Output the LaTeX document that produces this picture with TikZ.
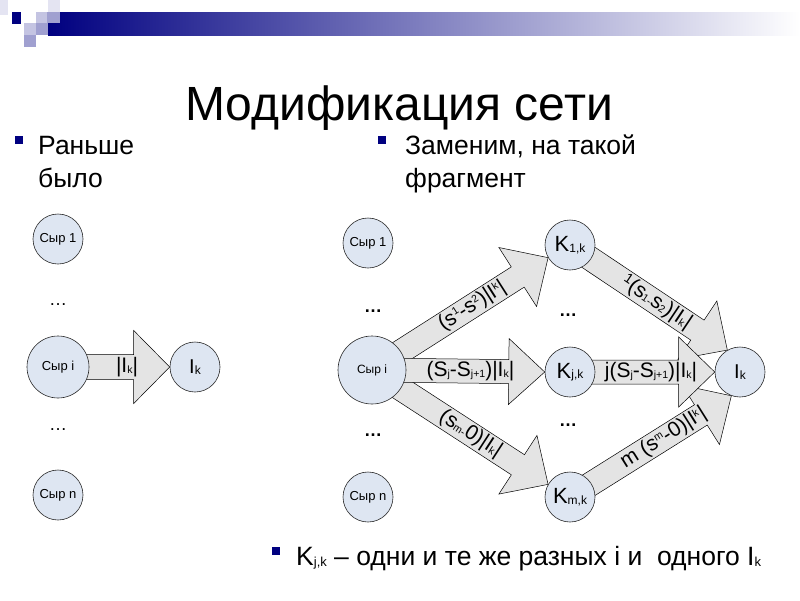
\documentclass[tikz,border=0pt]{standalone}
\usepackage{fontspec}
\setmainfont{Liberation Sans}
\usetikzlibrary{calc}
\pgfdeclarelayer{bg}
\pgfsetlayers{bg,main}
\definecolor{navy}{RGB}{0,0,128}
\definecolor{circfill}{RGB}{222,230,242}
\definecolor{arrfill}{RGB}{228,228,228}
\definecolor{paleA}{RGB}{228,228,242}
\definecolor{lavA}{RGB}{196,196,226}
\definecolor{lavB}{RGB}{160,160,208}
\newcommand\lsm[1]{{\fontsize{10.5}{10.5}\selectfont #1}}
\newcommand\lup[1]{\raisebox{6.5pt}{\lsm{#1}}}
\newcommand\ldn[1]{\raisebox{-1pt}{\lsm{#1}}}
\newcommand\ksub[1]{\raisebox{-0.5pt}{\fontsize{12}{12}\selectfont #1}}
\newcommand\bsub[1]{\raisebox{-1pt}{\fontsize{13}{13}\selectfont #1}}
% #1 half shaft width, #2 half head width, #3 tail, #4 tip
\newcommand\fatarrow[4]{%
  \coordinate (fab) at ($(#4)!36pt!(#3)$);
  \draw[fatarr] ($(#3)!#1!90:(#4)$) -- ($(fab)!#1!90:(#4)$) -- ($(fab)!#2!90:(#4)$) -- (#4)
    -- ($(fab)!#2!-90:(#4)$) -- ($(fab)!#1!-90:(#4)$) -- ($(#3)!#1!-90:(#4)$) -- cycle;}
\begin{document}
\begin{tikzpicture}[x=1pt,y=-1pt,
  circ/.style={circle, draw=black!85, line width=0.6pt, fill=circfill, minimum size=50pt, inner sep=0pt, font=\fontsize{13}{13}\selectfont},
  fatarr/.style={draw=black, line width=0.5pt, fill=arrfill},
  dots/.style={inner sep=0pt, font=\fontsize{18}{18}\selectfont},
  bdots/.style={inner sep=0pt, font=\bfseries\fontsize{18}{18}\selectfont},
  lbl/.style={inner sep=0pt, font=\fontsize{21}{21}\selectfont},
  btext/.style={anchor=base west, inner sep=0pt, font=\fontsize{26.5}{26.5}\selectfont},
  bullet/.style={fill=navy, draw=none, minimum size=8.5pt, inner sep=0pt}]
\useasboundingbox (0,0) rectangle (800,600);
% top decoration
\shade[left color=navy, right color=white] (48,12) rectangle (800,35);
\fill[paleA] (0,0) rectangle (8,15);
\fill[navy] (12,12) rectangle (21,24);
\fill[lavA] (36,12) rectangle (47,23);
\fill[lavB] (47,12) rectangle (60,23);
\fill[lavA] (24,23) rectangle (36,35);
\fill[lavB] (36,23) rectangle (48,35);
\fill[lavB] (24,35) rectangle (36,47);
\fill[paleA] (48,0) rectangle (60,12);
% title
\node[anchor=base, inner sep=0pt, font=\fontsize{48}{48}\selectfont] (title) at (399,120) {Модификация сети};
% bullets
\node[bullet] (b1) at (19,140) {};
\node[btext] (t1) at (38,154) {Раньше};
\node[btext] (t2) at (38,187) {было};
\node[bullet] (b2) at (382,140) {};
\node[btext] (t3) at (405,154) {Заменим, на такой};
\node[btext] (t4) at (405,187) {фрагмент};
\node[bullet] (b3) at (276,551) {};
\node[btext] (t5) at (296,565) {K\bsub{j,k} – одни и те же разных i и \ одного I\bsub{k}};
% left diagram
\node[circ] (ls1) at (58,239) {Сыр 1};
\node[dots] (ld1) at (58,305) {…};
\node[circ, minimum size=62pt] (lsi) at (58,367) {Сыр i};
\node[circ, font=\fontsize{20}{20}\selectfont] (lik) at (195,367) {I\ksub{k}};
\node[dots] (ld2) at (58,430) {…};
\node[circ] (lsn) at (58,495) {Сыр n};
% right diagram
\node[circ] (rs1) at (368,243) {Сыр 1};
\node[bdots] (rd1) at (373,311) {…};
\node[circ, minimum size=68pt, font=\fontsize{12}{12}\selectfont] (rsi) at (372,370) {Сыр i};
\node[bdots] (rd2) at (373,435) {…};
\node[circ] (rsn) at (368,497) {Сыр n};
\node[circ, font=\fontsize{22}{22}\selectfont] (k1) at (570,245) {K\ksub{1,k}};
\node[bdots] (rd3) at (568,315) {…};
\node[circ, font=\fontsize{22}{22}\selectfont] (kj) at (570,372) {K\ksub{j,k}};
\node[bdots] (rd4) at (568,425) {…};
\node[circ, font=\fontsize{22}{22}\selectfont] (km) at (570,497) {K\ksub{m,k}};
\node[circ, font=\fontsize{20}{20}\selectfont] (rik) at (740,372) {I\ksub{k}};
% arrows
\begin{pgfonlayer}{bg}
\fatarrow{12.5pt}{36.5pt}{lsi.center}{lik.west}
\fatarrow{12pt}{35pt}{rsi.center}{k1.210}
\fatarrow{12pt}{35pt}{rsi.center}{km.150}
\fatarrow{12pt}{33pt}{rsi.center}{kj.west}
\fatarrow{12pt}{35pt}{k1.center}{rik.120}
\fatarrow{12pt}{35pt}{km.center}{rik.250}
\fatarrow{12pt}{35pt}{kj.center}{rik.west}
\end{pgfonlayer}
% labels
\node[lbl] (la) at (127,367) {|I\ldn{k}|};
\path (rsi.center) -- (k1.210) node[lbl, sloped, pos=0.57] (lb) {(s\lup{1}-s\lup{2})|I\lup{k}|};
\path (rsi.center) -- (kj.west) node[lbl, pos=0.57] (lc) {(S\ldn{j}-S\ldn{j+1})|I\ldn{k}|};
\path (rsi.center) -- (km.150) node[lbl, sloped, pos=0.56] (ld) {(s\ldn{m-}0)|I\ldn{k}|};
\path (k1.center) -- (rik.120) node[lbl, sloped, pos=0.55] (le) {\raisebox{5pt}{\fontsize{14}{14}\selectfont 1}(s\ldn{1-}s\ldn{2})|I\ldn{k}|};
\path (kj.center) -- (rik.west) node[lbl, pos=0.56] (lf) {j(S\ldn{j}-S\ldn{j+1})|I\ldn{k}|};
\path (km.center) -- (rik.250) node[lbl, sloped, pos=0.58] (lg) {m (s\lup{m}-0)|I\lup{k}|};
\end{tikzpicture}
\end{document}
